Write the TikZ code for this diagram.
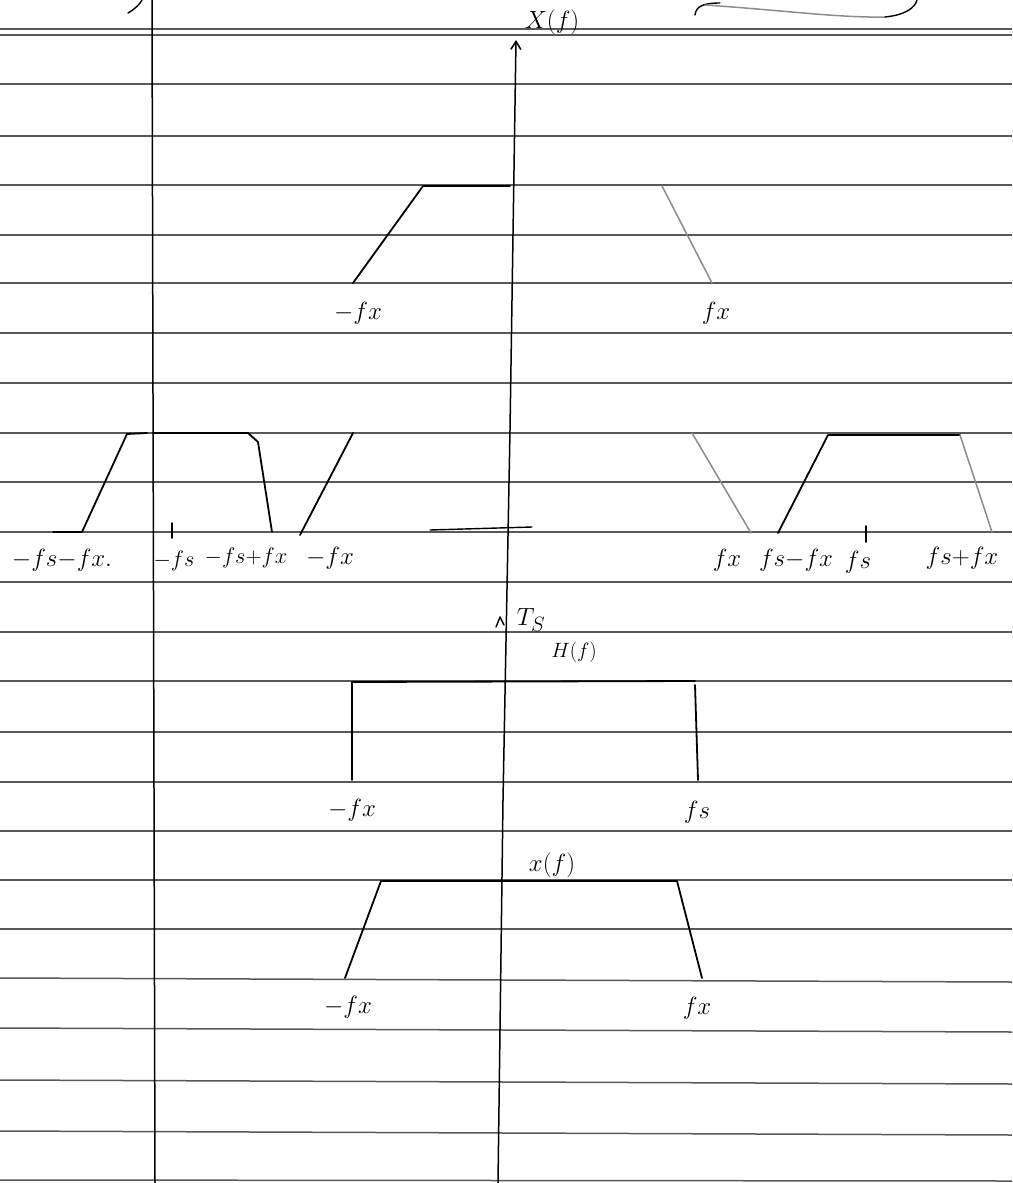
\documentclass[tikz,border=0pt]{standalone}
\usetikzlibrary{arrows.meta}
\begin{document}
\begin{tikzpicture}[x=1pt,y=-1pt,
  rule/.style={draw=black!65, line width=1.5pt},
  ink/.style={draw=black, line width=1.8pt, line cap=round, line join=round},
  faint/.style={draw=black!45, line width=1.5pt, line cap=round},
  lbl/.style={font=\fontsize{24.88}{28}\selectfont, inner sep=0pt},
  tlbl/.style={font=\fontsize{24.88}{28}\selectfont, inner sep=0pt},
  slbl/.style={font=\fontsize{20.74}{24}\selectfont, inner sep=0pt}]
\useasboundingbox (0,0) rectangle (1012,1183);
\fill[white] (0,0) rectangle (1012,1183);
% ruled lines
\draw[rule] (0,29) -- (1012,29);
\draw[rule] (0,35) -- (1012,35);
\foreach \y in {84,136,185,235,283,333,383,433,482,532,582,632,681,732,782,831,880,929}
  \draw[rule] (0,\y) -- (1012,\y);
\foreach \y in {978,1028,1080,1131}
  \draw[rule] (0,\y) -- (1012,\y+4);
\draw[rule] (0,1180) -- (1012,1181);
% stray marks at the top
\draw[ink, line width=1.4pt] (128,13) .. controls (135,9) and (140,4) .. (142,0);
\draw[ink, line width=1.4pt] (695,15) .. controls (696,6) and (704,3) .. (720,3);
\draw[faint] (705,5) .. controls (780,10) and (840,18) .. (885,17);
\draw[ink, line width=1.4pt] (885,17) .. controls (905,15) and (915,8) .. (917,0);
% margin and frequency axis
\coordinate (mtop) at (152,0);
\coordinate (mbot) at (155,1183);
\draw[ink, line width=1.5pt] (mtop) -- (mbot);
\coordinate (abot) at (498,1183);
\coordinate (atop) at (516,40);
\draw[ink, line width=1.5pt, -{Straight Barb[length=8pt,width=10pt]}] (abot) -- (503,800) -- (510,430) -- (atop);
\node[lbl] (Xf) at (552,22) {$X(f)$};
% row 1 : X(f)
\draw[ink] (353,283) -- (423,186) -- (510,186);
\draw[faint] (662,186) -- (712,283);
\node[lbl] (r1a) at (358,313) {$-fx$};
\node[lbl] (r1b) at (716,313) {$fx$};
% row 2 : sampled spectrum
\draw[ink] (53,532) -- (82,532) -- (127,434) -- (147,433);
\draw[ink] (153,433) -- (248,433) -- (258,442) -- (272,532);
\draw[ink] (300,535) -- (353,433);
\draw[ink] (172,523) -- (172,538);
\draw[ink] (866,526) -- (866,542);
\draw[faint] (692,433) -- (751,533);
\draw[ink] (778,533) -- (828,435) -- (960,435);
\draw[faint] (960,435) -- (992,532);
\draw[ink, line width=1.4pt] (430,530) -- (532,527);
\node[tlbl] (r2a) at (62,560) {${-}fs{-}fx.$};
\node[tlbl] (r2b) at (174,561) {\scalebox{0.9}{${-}fs$}};
\node[tlbl] (r2c) at (246,558) {\scalebox{0.9}{${-}fs{+}fx$}};
\node[tlbl] (r2d) at (330,558) {${-}fx$};
\node[tlbl] (r2e) at (727,560) {$fx$};
\node[tlbl] (r2f) at (796,560) {$fs{-}fx$};
\node[tlbl] (r2g) at (858,562) {$fs$};
\node[tlbl] (r2h) at (962,558) {$fs{+}fx$};
% row 3 : H(f)
\draw[ink, line width=1.4pt] (496,627) -- (500,617) -- (504,625);
\node[lbl] (Ts) at (531,620) {$T_S$};
\node[slbl] (Hf) at (574,652) {$H(f)$};
\draw[ink] (352,780) -- (352,682) -- (695,681);
\draw[ink] (695,685) -- (698,780);
\node[lbl] (r3a) at (352,810) {$-fx$};
\node[lbl] (r3b) at (697,812) {$fs$};
% row 4 : x(f)
\node[lbl] (xf) at (552,865) {$x(f)$};
\draw[ink] (345,978) -- (381,881) -- (677,881) -- (702,978);
\node[lbl] (r4a) at (348,1007) {$-fx$};
\node[lbl] (r4b) at (697,1008) {$fx$};
\end{tikzpicture}
\end{document}
